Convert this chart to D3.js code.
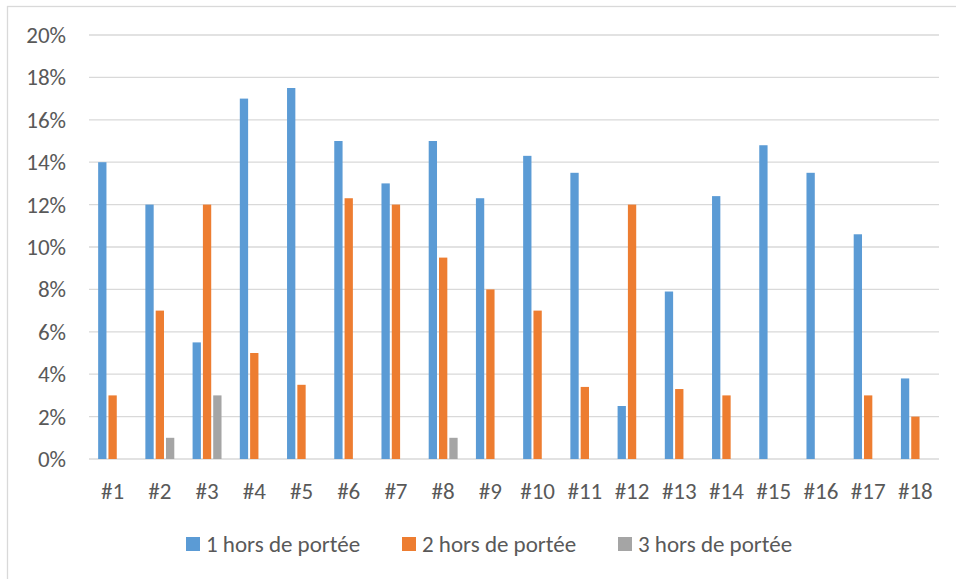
<!DOCTYPE html>
<html>
<head>
<meta charset="utf-8">
<script src="https://cdn.jsdelivr.net/npm/d3@7"></script>
<style>
  body { margin: 0; background: #fff; }
  svg text { font-family: Carlito, Calibri, Lato, "Open Sans", sans-serif; fill: #595959; }
</style>
</head>
<body>
<svg width="956" height="579"></svg>
<script>
// data
var categories = ["#1","#2","#3","#4","#5","#6","#7","#8","#9","#10","#11","#12","#13","#14","#15","#16","#17","#18"];
var seriesNames = ["1 hors de portée", "2 hors de portée", "3 hors de portée"];
var hors1 = [14, 12, 5.5, 17, 17.5, 15, 13, 15, 12.3, 14.3, 13.5, 2.5, 7.9, 12.4, 14.8, 13.5, 10.6, 3.8];
var hors2 = [3, 7, 12, 5, 3.5, 12.3, 12, 9.5, 8, 7, 3.4, 12, 3.3, 3, 0, 0, 3, 2];
var hors3 = [0, 1, 3, 0, 0, 0, 0, 1, 0, 0, 0, 0, 0, 0, 0, 0, 0, 0];
var yTicks = [0, 2, 4, 6, 8, 10, 12, 14, 16, 18, 20];
var colors = ["#5B9BD5", "#ED7D31", "#A5A5A5"];

var svg = d3.select("svg");

// outer chart border (clipped by the window on right and bottom)
svg.append("rect")
    .attr("x", 7.5).attr("y", 6.5)
    .attr("width", 960).attr("height", 590)
    .attr("fill", "none")
    .attr("stroke", "#D9D9D9")
    .attr("stroke-width", 1.3);

// plot area edges
var plotLeft = 89, plotRight = 939, plotTop = 35, plotBottom = 459;

var x = d3.scaleBand()
    .domain(categories)
    .range([plotLeft, plotRight]);

var y = d3.scaleLinear()
    .domain([0, 20])
    .range([plotBottom, plotTop]);

// gridlines
svg.append("g")
  .selectAll("line")
  .data(yTicks)
  .enter().append("line")
    .attr("x1", plotLeft).attr("x2", plotRight)
    .attr("y1", function(d) { return y(d); })
    .attr("y2", function(d) { return y(d); })
    .attr("stroke", "#D9D9D9")
    .attr("stroke-width", 1.3);

// y tick labels
svg.append("g")
  .selectAll("text")
  .data(yTicks)
  .enter().append("text")
    .attr("x", 66)
    .attr("y", function(d) { return y(d); })
    .attr("dy", "0.35em")
    .attr("text-anchor", "end")
    .attr("font-size", 23)
    .text(function(d) { return d + "%"; });

// bars, grouped by category
var barW = x.bandwidth() * 0.176, gap = 2;
var rows = categories.map(function(c, i) { return [hors1[i], hors2[i], hors3[i]]; });

var groups = svg.append("g")
  .selectAll("g")
  .data(rows)
  .enter().append("g")
    .attr("transform", function(d, i) {
      var cx = x(categories[i]) + x.bandwidth() / 2;
      return "translate(" + (cx - 1.5 * barW - gap) + ",0)";
    });

groups.selectAll("rect")
  .data(function(d) { return d; })
  .enter().append("rect")
    .attr("x", function(d, j) { return j * (barW + gap); })
    .attr("width", barW)
    .attr("y", function(d) { return y(d); })
    .attr("height", function(d) { return y(0) - y(d); })
    .attr("fill", function(d, j) { return colors[j]; });

// x tick labels
svg.append("g")
  .selectAll("text")
  .data(categories)
  .enter().append("text")
    .attr("x", function(d) { return x(d) + x.bandwidth() / 2; })
    .attr("y", 491)
    .attr("dy", "0.35em")
    .attr("text-anchor", "middle")
    .attr("font-size", 23)
    .text(function(d) { return d; });

// legend
var legendX = [186, 402, 618];
var legend = svg.append("g")
  .selectAll("g")
  .data(seriesNames)
  .enter().append("g")
    .attr("transform", function(d, i) { return "translate(" + legendX[i] + ",537)"; });

legend.append("rect")
    .attr("width", 14).attr("height", 14)
    .attr("fill", function(d, i) { return colors[i]; });

legend.append("text")
    .attr("x", 20)
    .attr("y", 7)
    .attr("dy", "0.35em")
    .attr("font-size", 23)
    .text(function(d) { return d; });
</script>
</body>
</html>
